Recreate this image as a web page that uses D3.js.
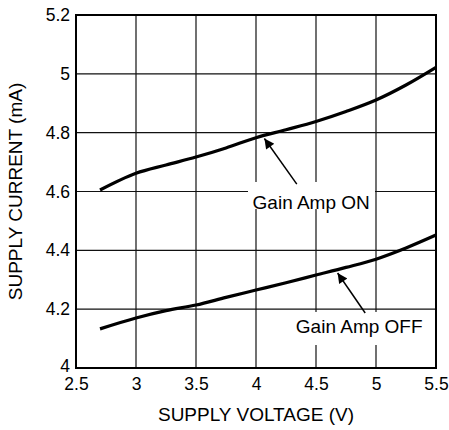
<!DOCTYPE html>
<html><head><meta charset="utf-8">
<script src="https://cdn.jsdelivr.net/npm/d3@7"></script>
<style>body{margin:0;background:#fff}text{font-family:"Liberation Sans",Arial,sans-serif}</style>
</head><body><svg id="c" width="449" height="430"></svg>
<script>
const voltage = [2.7, 3.0, 3.25, 3.5, 3.75, 4.0, 4.25, 4.5, 4.75, 5.0, 5.25, 5.5];
const currentOn = [4.605, 4.662, 4.69, 4.717, 4.748, 4.783, 4.81, 4.838, 4.872, 4.911, 4.962, 5.022];
const currentOff = [4.133, 4.17, 4.195, 4.214, 4.24, 4.265, 4.29, 4.316, 4.342, 4.37, 4.408, 4.452];
const xTicks = [2.5, 3, 3.5, 4, 4.5, 5, 5.5];
const yTicks = [4, 4.2, 4.4, 4.6, 4.8, 5, 5.2];
const labels = [
  {text: "Gain Amp ON", x: 4.46, y: 4.54, tipX: 4.07, tipY: 4.78, tailX: 4.34, tailY: 4.625},
  {text: "Gain Amp OFF", x: 4.86, y: 4.12, tipX: 4.68, tipY: 4.323, tailX: 4.91, tailY: 4.187}
];

const svg = d3.select("#c");
const L = 76, R = 436, T = 15, B = 368;
const x = d3.scaleLinear().domain([2.5, 5.5]).range([L, R]);
const y = d3.scaleLinear().domain([4, 5.2]).range([B, T]);

const defs = svg.append("defs");
defs.append("marker").attr("id", "ah").attr("viewBox", "0 0 10 10")
  .attr("refX", 10).attr("refY", 5).attr("markerWidth", 14).attr("markerHeight", 10)
  .attr("markerUnits", "userSpaceOnUse").attr("orient", "auto")
  .append("path").attr("d", "M0,0 L10,5 L0,10 Z").attr("fill", "#000");

// grid
const g = svg.append("g");
g.selectAll(".vx").data(xTicks.slice(1, -1)).join("line")
  .attr("x1", d => x(d)).attr("x2", d => x(d)).attr("y1", T).attr("y2", B)
  .attr("stroke", "#111").attr("stroke-width", 1.2);
g.selectAll(".hy").data(yTicks.slice(1, -1)).join("line")
  .attr("x1", L).attr("x2", R).attr("y1", d => y(d)).attr("y2", d => y(d))
  .attr("stroke", "#111").attr("stroke-width", 1.2);

// label backgrounds (hide grid)
svg.append("rect").attr("x", 248).attr("y", 182).attr("width", 127).attr("height", 27).attr("fill", "#fff");
svg.append("rect").attr("x", 289).attr("y", 312).attr("width", 146).attr("height", 33).attr("fill", "#fff");

// frame
svg.append("rect").attr("x", L).attr("y", T).attr("width", R - L).attr("height", B - T)
  .attr("fill", "none").attr("stroke", "#000").attr("stroke-width", 2);

// axes labels
const xAxis = d3.axisBottom(x).tickValues(xTicks).tickSize(0).tickPadding(10).tickFormat(d3.format("~g"));
const xa = svg.append("g").attr("transform", `translate(0,${B})`).call(xAxis);
xa.select(".domain").remove();
xa.selectAll("text").attr("font-size", 17.5).attr("fill", "#000").attr("font-family", "Liberation Sans, Arial, sans-serif");
const yAxis = d3.axisLeft(y).tickValues(yTicks).tickSize(0).tickPadding(6).tickFormat(d3.format("~g"));
const ya = svg.append("g").attr("transform", `translate(${L},0)`).call(yAxis);
ya.select(".domain").remove();
ya.selectAll("text").attr("font-size", 17.5).attr("fill", "#000").attr("font-family", "Liberation Sans, Arial, sans-serif");
ya.selectAll(".tick").filter(d => d === 4).select("text").attr("dy", "0.2em");

svg.append("text").attr("x", 256).attr("y", 421).attr("text-anchor", "middle")
  .attr("font-size", 19).text("SUPPLY VOLTAGE (V)");
svg.append("text").attr("transform", `translate(22,${(T + B) / 2}) rotate(-90)`).attr("text-anchor", "middle")
  .attr("font-size", 19).text("SUPPLY CURRENT (mA)");

// curves
const line = d3.line().x((d, i) => x(voltage[i])).y(d => y(d)).curve(d3.curveMonotoneX);
[currentOn, currentOff].forEach(s => {
  svg.append("path").attr("d", line(s)).attr("fill", "none").attr("stroke", "#000")
    .attr("stroke-width", 3.2).attr("stroke-linejoin", "round");
});

// annotations
labels.forEach(l => {
  svg.append("line").attr("x1", x(l.tailX)).attr("y1", y(l.tailY))
    .attr("x2", x(l.tipX)).attr("y2", y(l.tipY))
    .attr("stroke", "#000").attr("stroke-width", 1.5).attr("marker-end", "url(#ah)");
  svg.append("text").attr("x", x(l.x)).attr("y", y(l.y)).attr("text-anchor", "middle")
    .attr("font-size", 19).text(l.text);
});
</script></body></html>
